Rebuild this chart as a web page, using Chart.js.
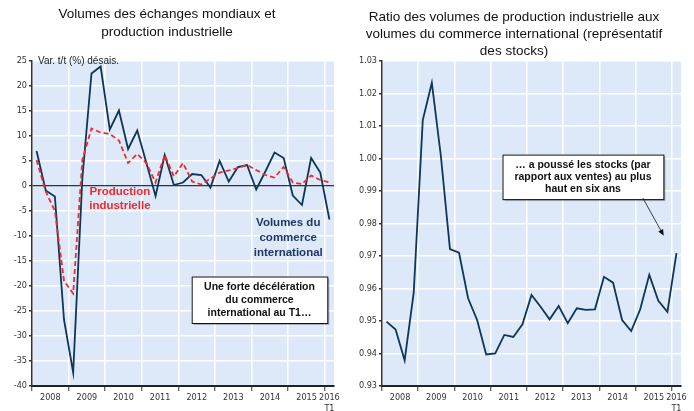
<!DOCTYPE html>
<html>
<head>
<meta charset="utf-8">
<script src="https://cdn.jsdelivr.net/npm/chart.js@4.4.1/dist/chart.umd.min.js"></script>
<style>
    html, body { margin: 0; padding: 0; background: #fff; }
    #wrap { position: relative; width: 694px; height: 411px; }
    .panel { position: absolute; top: 0; width: 347px; height: 411px; }
</style>
</head>
<body>
<div id="wrap">
    <div class="panel" style="left:0"><canvas id="left-chart"></canvas></div>
    <div class="panel" style="left:347px"><canvas id="right-chart"></canvas></div>
</div>
<script>
// Quarterly series, 2008 T1 -> 2016 T1
const quarters = [];
for (let year = 2008; year <= 2016; year++) {
    for (let q = 1; q <= 4; q++) {
        if (year === 2016 && q > 1) break;
        quarters.push(year + 'T' + q);
    }
}

// Volumes du commerce international, var. t/t (%)
const tradeVolumes = [
    7.0, -0.9, -2.1, -26.8, -37.3, 1.5, 22.5, 23.9,
    11.3, 15.1, 7.4, 11.1, 4.6, -2.0, 6.2, 0.2,
    0.7, 2.4, 2.2, -0.3, 5.0, 0.9, 3.8, 4.2,
    -0.7, 2.9, 6.7, 5.6, -1.9, -3.8, 5.6, 2.7,
    -6.7
];

// Production industrielle, var. t/t (%)
const industrialProduction = [
    5.2, -1.1, -5.0, -19.0, -21.5, 5.2, 11.5, 10.7,
    10.4, 9.1, 4.6, 6.4, 4.6, 0.7, 6.2, 1.9,
    4.6, 0.9, 0.3, 1.5, 2.7, 3.1, 3.6, 4.2,
    3.2, 2.2, 1.7, 3.8, 0.7, 0.4, 2.1, 1.2,
    0.7
];

// Ratio production industrielle / commerce international
const stockRatio = [
    0.9498, 0.9474, 0.9379, 0.9587, 1.0118, 1.0233, 1.0007, 0.9721,
    0.9710, 0.9570, 0.9503, 0.9397, 0.9400, 0.9457, 0.9451, 0.9490,
    0.9580, 0.9544, 0.9505, 0.9546, 0.9493, 0.9539, 0.9534, 0.9536,
    0.9636, 0.9618, 0.9503, 0.9469, 0.9536, 0.9642, 0.9562, 0.9528,
    0.9709
];

const yearLabels = ['2008', '2009', '2010', '2011', '2012', '2013', '2014', '2015'];
const lastLabel = ['2016', 'T1'];

const NAVY = '#0f3656';
const RED = '#ee2a2f';
const PLOT_BG = '#dde9f9';
const TICK_FONT = { family: "'Liberation Sans Narrow', 'DejaVu Sans Condensed', 'Liberation Sans', Arial, sans-serif", size: 9 };
const NOTE_FAMILY = "'Liberation Sans', Arial, sans-serif";

const toPoints = (values) => values.map((v, i) => ({ x: i + 0.5, y: v }));

// Draws plot background, free labels, boxed notes and arrows
const chartNotes = {
    id: 'chartNotes',
    beforeDraw(chart, args, opts) {
        const { ctx, chartArea: a } = chart;
        ctx.save();
        ctx.fillStyle = opts.background;
        ctx.fillRect(a.left, a.top, a.right - a.left, a.bottom - a.top);
        ctx.restore();
    },
    afterDatasetsDraw(chart, args, opts) {
        const { ctx, chartArea: a, scales: { x, y } } = chart;
        ctx.save();

        if (opts.unit) {
            ctx.font = '10px ' + NOTE_FAMILY;
            ctx.fillStyle = '#222';
            ctx.textAlign = 'left';
            ctx.textBaseline = 'middle';
            ctx.fillText(opts.unit, a.left + 6, a.top);
        }

        (opts.labels || []).forEach(l => {
            ctx.font = 'bold ' + l.size + 'px ' + NOTE_FAMILY;
            ctx.fillStyle = l.color;
            ctx.textAlign = 'center';
            ctx.textBaseline = 'middle';
            const cx = x.getPixelForValue(l.x);
            const top = y.getPixelForValue(l.y);
            l.lines.forEach((t, i) => ctx.fillText(t, cx, top + i * l.lineHeight));
        });

        (opts.boxes || []).forEach(b => {
            const x1 = x.getPixelForValue(b.x1), x2 = x.getPixelForValue(b.x2);
            const y1 = y.getPixelForValue(b.y1), y2 = y.getPixelForValue(b.y2);
            ctx.fillStyle = 'rgba(0,0,0,0.25)';
            ctx.fillRect(x1 + 2, y1 + 2, x2 - x1, y2 - y1);
            ctx.fillStyle = '#fff';
            ctx.fillRect(x1, y1, x2 - x1, y2 - y1);
            ctx.strokeStyle = '#111';
            ctx.lineWidth = 1;
            ctx.strokeRect(x1 + 0.5, y1 + 0.5, x2 - x1, y2 - y1);
            ctx.font = 'bold ' + b.size + 'px ' + NOTE_FAMILY;
            ctx.fillStyle = '#111';
            ctx.textAlign = 'center';
            ctx.textBaseline = 'middle';
            const cx = (x1 + x2) / 2;
            const h = (b.lines.length - 1) * b.lineHeight;
            const cy = (y1 + y2) / 2 - h / 2;
            b.lines.forEach((t, i) => ctx.fillText(t, cx, cy + i * b.lineHeight));
        });

        (opts.arrows || []).forEach(ar => {
            const sx = x.getPixelForValue(ar.x1), sy = y.getPixelForValue(ar.y1);
            const ex = x.getPixelForValue(ar.x2), ey = y.getPixelForValue(ar.y2);
            const ang = Math.atan2(ey - sy, ex - sx);
            ctx.strokeStyle = '#111';
            ctx.fillStyle = '#111';
            ctx.lineWidth = 0.8;
            ctx.beginPath();
            ctx.moveTo(sx, sy);
            ctx.lineTo(ex - 5 * Math.cos(ang), ey - 5 * Math.sin(ang));
            ctx.stroke();
            ctx.beginPath();
            ctx.moveTo(ex, ey);
            ctx.lineTo(ex - 7 * Math.cos(ang - 0.4), ey - 7 * Math.sin(ang - 0.4));
            ctx.lineTo(ex - 7 * Math.cos(ang + 0.4), ey - 7 * Math.sin(ang + 0.4));
            ctx.closePath();
            ctx.fill();
        });

        ctx.restore();
    }
};

// Year boundaries carry grid + tick marks, year centres carry labels
const xTickValues = [];
for (let i = 0; i <= 32; i += 2) xTickValues.push(i);
xTickValues.push(32.5);

const makeXScale = () => ({
    type: 'linear',
    min: 0,
    max: quarters.length,
    afterBuildTicks: (scale) => {
        scale.ticks = xTickValues.map(v => ({ value: v }));
    },
    afterFit: (scale) => { scale.height = 25; },
    ticks: {
        autoSkip: false,
        maxRotation: 0,
        padding: 1,
        color: '#333',
        font: TICK_FONT,
        callback: (v) => {
            if (v === 32.5) return lastLabel;
            if (v % 4 === 2) return yearLabels[(v - 2) / 4];
            return '';
        }
    },
    grid: {
        color: (ctx) => (ctx.tick && ctx.tick.value % 4 === 0) ? '#fff' : 'rgba(0,0,0,0)',
        lineWidth: 1.5,
        tickColor: (ctx) => (ctx.tick && ctx.tick.value % 4 === 0) ? '#333' : 'rgba(0,0,0,0)',
        tickLength: 5,
        tickWidth: 1
    },
    border: { color: '#222', width: 2 }
});

const baseOptions = (yScale, title, titleFont, titlePadding, notes) => ({
    responsive: true,
    maintainAspectRatio: false,
    animation: false,
    layout: { padding: { left: 0, right: 13, top: 0, bottom: 0 } },
    elements: { point: { radius: 0 }, line: { tension: 0 } },
    scales: { x: makeXScale(), y: yScale },
    plugins: {
        legend: { display: false },
        tooltip: { enabled: false },
        title: {
            display: true,
            text: title,
            color: '#111',
            font: titleFont,
            padding: titlePadding
        },
        chartNotes: notes
    }
});

new Chart(document.getElementById('left-chart'), {
    type: 'line',
    data: {
        datasets: [
            {
                label: 'Production industrielle',
                data: toPoints(industrialProduction),
                borderColor: RED,
                borderWidth: 1.8,
                borderDash: [5, 3]
            },
            {
                label: 'Volumes du commerce international',
                data: toPoints(tradeVolumes),
                borderColor: NAVY,
                borderWidth: 1.8
            }
        ]
    },
    options: baseOptions(
        {
            min: -40,
            max: 25,
            afterFit: (scale) => { scale.width = 32; },
            ticks: { stepSize: 5, padding: 2, color: '#333', font: TICK_FONT },
            grid: {
                color: (ctx) => ctx.tick.value === 0 ? '#333' : '#fff',
                lineWidth: (ctx) => ctx.tick.value === 0 ? 1.2 : 1.5,
                tickColor: '#333',
                tickLength: 3
            },
            border: { color: '#333', width: 1.5 }
        },
        ['Volumes des échanges mondiaux et', 'production industrielle'],
        { family: NOTE_FAMILY, size: 13.5, weight: 'normal', lineHeight: 18 / 13.5 },
        { top: 5, bottom: 20 },
        {
            background: PLOT_BG,
            unit: 'Var. t/t (%) désais.',
            labels: [
                { lines: ['Production', 'industrielle'], x: 9.6, y: -1.15, size: 11.5, lineHeight: 14, color: RED },
                { lines: ['Volumes du', 'commerce', 'international'], x: 28.0, y: -7.4, size: 11.5, lineHeight: 15, color: '#1f3864' }
            ],
            boxes: [
                { lines: ['Une forte décélération', 'du commerce', 'international au T1…'],
                  x1: 17.45, x2: 32.27, y1: -18.1, y2: -27.4, size: 10.5, lineHeight: 13 }
            ]
        }
    ),
    plugins: [chartNotes]
});

new Chart(document.getElementById('right-chart'), {
    type: 'line',
    data: {
        datasets: [
            {
                label: 'Ratio',
                data: toPoints(stockRatio),
                borderColor: NAVY,
                borderWidth: 1.8
            }
        ]
    },
    options: baseOptions(
        {
            min: 0.93,
            max: 1.03,
            afterFit: (scale) => { scale.width = 35; },
            ticks: {
                stepSize: 0.01, padding: 2, color: '#333', font: TICK_FONT,
                callback: (v) => v.toFixed(2)
            },
            grid: { color: '#fff', lineWidth: 1.5, tickColor: '#333', tickLength: 3 },
            border: { color: '#333', width: 1.5 }
        },
        ['Ratio des volumes de production industrielle aux',
         'volumes du commerce international (représentatif',
         'des stocks)'],
        { family: NOTE_FAMILY, size: 13.5, weight: 'normal', lineHeight: 17 / 13.5 },
        { top: 9, bottom: 1 },
        {
            background: PLOT_BG,
            boxes: [
                { lines: ['… a poussé les stocks (par', 'rapport aux ventes) au plus', 'haut en six ans'],
                  x1: 13.3, x2: 31.06, y1: 1.0012, y2: 0.9875, size: 10.5, lineHeight: 12 }
            ],
            arrows: [
                { x1: 28.8, y1: 0.9878, x2: 31.1, y2: 0.9762 }
            ]
        }
    ),
    plugins: [chartNotes]
});
</script>
</body>
</html>
